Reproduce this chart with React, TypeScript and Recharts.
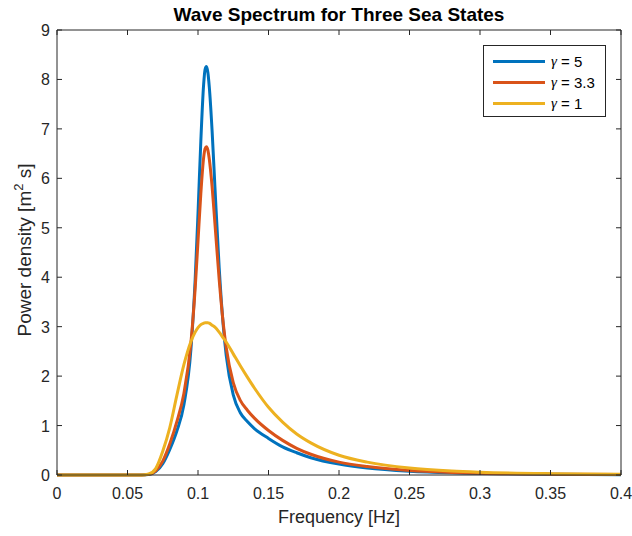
import React from 'react';
import { LineChart, Line, XAxis, YAxis } from 'recharts';

// frequency grid [Hz], denser around the peak
const freq = [
  0, 0.05, 0.06, 0.065, 0.07, 0.075, 0.08, 0.085, 0.09, 0.095,
  0.098, 0.1, 0.102, 0.104, 0.105, 0.106, 0.107, 0.108, 0.11, 0.112,
  0.115, 0.118, 0.12, 0.125, 0.13, 0.135, 0.14, 0.15, 0.16, 0.17,
  0.18, 0.2, 0.22, 0.25, 0.28, 0.3, 0.35, 0.4,
];

// power density [m^2 s]
const gamma5 = [
  0, 0, 0.001, 0.011, 0.068, 0.23, 0.52, 0.89, 1.42, 2.55,
  3.96, 5.29, 6.75, 7.9, 8.2, 8.26, 8.14, 7.85, 6.96, 5.83,
  4.2, 2.99, 2.42, 1.62, 1.26, 1.08, 0.94, 0.74, 0.57, 0.45,
  0.35, 0.22, 0.14, 0.075, 0.043, 0.031, 0.014, 0.007,
];
const gamma33 = [
  0, 0, 0.001, 0.013, 0.083, 0.28, 0.63, 1.08, 1.65, 2.68,
  3.78, 4.73, 5.69, 6.42, 6.6, 6.64, 6.57, 6.39, 5.83, 5.09,
  3.96, 3.04, 2.58, 1.87, 1.51, 1.31, 1.15, 0.9, 0.7, 0.54,
  0.42, 0.26, 0.17, 0.091, 0.053, 0.037, 0.017, 0.009,
];
const gamma1 = [
  0, 0, 0.001, 0.02, 0.13, 0.48, 0.96, 1.61, 2.23, 2.7,
  2.89, 2.98, 3.04, 3.07, 3.08, 3.08, 3.08, 3.07, 3.03, 2.99,
  2.89, 2.77, 2.69, 2.45, 2.21, 1.98, 1.76, 1.37, 1.07, 0.83,
  0.65, 0.4, 0.26, 0.14, 0.08, 0.057, 0.027, 0.014,
];

const xTicks = [0, 0.05, 0.1, 0.15, 0.2, 0.25, 0.3, 0.35, 0.4];
const xTickLabels = ['0', '0.05', '0.1', '0.15', '0.2', '0.25', '0.3', '0.35', '0.4'];
const yTicks = [0, 1, 2, 3, 4, 5, 6, 7, 8, 9];

const series = [
  { key: 'g5', label: '5', color: '#0072BD' },
  { key: 'g33', label: '3.3', color: '#D95319' },
  { key: 'g1', label: '1', color: '#EDB120' },
];

const data = freq.map((f, i) => ({ f, g5: gamma5[i], g33: gamma33[i], g1: gamma1[i] }));

const AXIS = '#262626';
const FONT = '"Liberation Sans", Arial, Helvetica, sans-serif';
const TICK_LEN = 5;

const BottomTick = (props: any) => {
  const { x, y, payload } = props;
  const i = xTicks.indexOf(payload.value);
  return (
    <g>
      <line x1={x} y1={y} x2={x} y2={y - TICK_LEN} stroke={AXIS} strokeWidth={1} />
      <text x={x} y={y + 24} textAnchor="middle" fill={AXIS} fontSize={16} fontFamily={FONT}>
        {i >= 0 ? xTickLabels[i] : payload.value}
      </text>
    </g>
  );
};

const TopTick = (props: any) => {
  const { x, y } = props;
  return <line x1={x} y1={y} x2={x} y2={y + TICK_LEN} stroke={AXIS} strokeWidth={1} />;
};

const LeftTick = (props: any) => {
  const { x, y, payload } = props;
  return (
    <g>
      <line x1={x} y1={y} x2={x + TICK_LEN} y2={y} stroke={AXIS} strokeWidth={1} />
      <text x={x - 7} y={y + 6} textAnchor="end" fill={AXIS} fontSize={16} fontFamily={FONT}>
        {payload.value}
      </text>
    </g>
  );
};

const RightTick = (props: any) => {
  const { x, y } = props;
  return <line x1={x} y1={y} x2={x - TICK_LEN} y2={y} stroke={AXIS} strokeWidth={1} />;
};

export default function App() {
  return (
    <div
      style={{
        position: 'absolute',
        left: 0,
        top: 0,
        width: 632,
        height: 536,
        background: '#fff',
        fontFamily: FONT,
        color: AXIS,
      }}
    >
      <div
        style={{
          position: 'absolute',
          left: 57,
          width: 564,
          top: 4,
          textAlign: 'center',
          fontWeight: 'bold',
          fontSize: 19,
          lineHeight: '22px',
          color: '#000',
        }}
      >
        Wave Spectrum for Three Sea States
      </div>

      <LineChart
        width={632}
        height={536}
        data={data}
        margin={{ top: 29, right: 10, bottom: 31, left: 0 }}
      >
        <XAxis
          dataKey="f"
          type="number"
          domain={[0, 0.4]}
          ticks={xTicks}
          interval={0}
          height={30}
          tickSize={0}
          tickMargin={0}
          tickLine={false}
          axisLine={{ stroke: AXIS }}
          tick={BottomTick}
        />
        <XAxis
          xAxisId="top"
          orientation="top"
          dataKey="f"
          type="number"
          domain={[0, 0.4]}
          ticks={xTicks}
          interval={0}
          height={1}
          tickSize={0}
          tickMargin={0}
          tickLine={false}
          axisLine={{ stroke: AXIS }}
          tick={TopTick}
        />
        <YAxis
          type="number"
          domain={[0, 9]}
          ticks={yTicks}
          interval={0}
          width={57}
          tickSize={0}
          tickMargin={0}
          tickLine={false}
          axisLine={{ stroke: AXIS }}
          tick={LeftTick}
        />
        <YAxis
          yAxisId="right"
          orientation="right"
          type="number"
          domain={[0, 9]}
          ticks={yTicks}
          interval={0}
          width={1}
          tickSize={0}
          tickMargin={0}
          tickLine={false}
          axisLine={{ stroke: AXIS }}
          tick={RightTick}
        />
        {series.map((s) => (
          <Line
            key={s.key}
            type="monotone"
            dataKey={s.key}
            stroke={s.color}
            strokeWidth={3}
            dot={false}
            isAnimationActive={false}
          />
        ))}
        {/* invisible series so the top and right axes get drawn */}
        <Line
          xAxisId="top"
          yAxisId="right"
          dataKey="g1"
          stroke="none"
          dot={false}
          activeDot={false}
          legendType="none"
          isAnimationActive={false}
        />
      </LineChart>

      <div
        style={{
          position: 'absolute',
          left: 57,
          width: 564,
          top: 506,
          textAlign: 'center',
          fontSize: 18,
          lineHeight: '22px',
        }}
      >
        Frequency [Hz]
      </div>

      <div
        style={{
          position: 'absolute',
          left: 22,
          top: 250,
          transform: 'translate(-50%, -50%) rotate(-90deg)',
          whiteSpace: 'nowrap',
          fontSize: 19,
          lineHeight: '22px',
        }}
      >
        Power density [m<sup style={{ fontSize: 13 }}>2</sup> s]
      </div>

      {/* legend box */}
      <div
        style={{
          position: 'absolute',
          left: 483,
          top: 45,
          width: 121,
          height: 70,
          border: `1px solid ${AXIS}`,
          background: '#fff',
        }}
      >
        {series.map((s, i) => (
          <div
            key={s.key}
            style={{
              position: 'absolute',
              left: 9,
              top: 6 + i * 21,
              height: 18,
              display: 'flex',
              alignItems: 'center',
              fontSize: 15,
              color: '#000',
              whiteSpace: 'nowrap',
            }}
          >
            <span style={{ display: 'inline-block', width: 52, height: 3, background: s.color, marginRight: 6 }} />
            <span style={{ fontStyle: 'italic', fontFamily: '"Liberation Serif", serif' }}>γ</span>
            &nbsp;= {s.label}
          </div>
        ))}
      </div>
    </div>
  );
}
